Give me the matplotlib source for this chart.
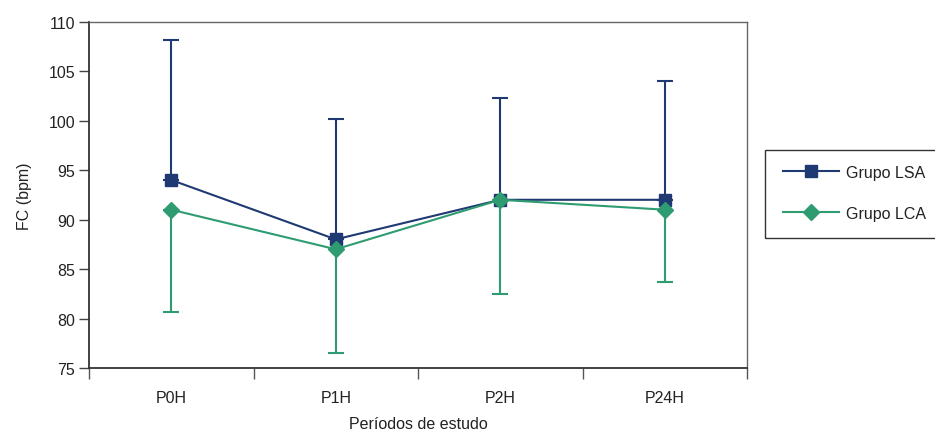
import matplotlib
matplotlib.use("Agg")
import matplotlib.pyplot as plt
from matplotlib.patches import Rectangle
from matplotlib.lines import Line2D
import numpy as np

categories = ["P0H", "P1H", "P2H", "P24H"]
lsa_mean = [94, 88, 92, 92]
lsa_err_up = [14.2, 12.2, 10.3, 12.0]
lca_mean = [91, 87, 92, 91]
lca_err_down = [10.3, 10.5, 9.5, 7.3]
yticks = [75, 80, 85, 90, 95, 100, 105, 110]

navy = "#1f3a72"
green = "#2e9c70"
txt = "#222222"

plt.rcParams['font.family'] = ['Liberation Sans', 'DejaVu Sans']
fs = 11.5

fig = plt.figure(figsize=(9.35, 4.35), dpi=100)
ax = fig.add_axes([89/935, 1-369/435, (747-89)/935, (369-22.7)/435])

x = np.arange(len(categories))
ax.errorbar(x, lsa_mean, yerr=[np.zeros(len(x)), lsa_err_up], color=navy, lw=1.5,
            marker="s", ms=8.5, capsize=5.5, capthick=1.5, elinewidth=1.5, zorder=3)
ax.errorbar(x, lca_mean, yerr=[lca_err_down, np.zeros(len(x))], color=green, lw=1.5,
            marker="D", ms=8, capsize=5.5, capthick=1.5, elinewidth=1.5, zorder=4)

ax.set_xlim(-0.5, len(categories) - 0.5)
ax.set_ylim(75, 110)
ax.set_yticks(yticks)
ax.set_yticklabels([str(v) for v in yticks])
ax.set_xticks(np.arange(len(categories) + 1) - 0.5)
ax.set_xticklabels([])
ax.set_xticks(x, minor=True)
ax.set_xticklabels(categories, minor=True)
ax.tick_params(axis="x", which="major", direction="out", length=8, width=1, color="#555555")
ax.tick_params(axis="x", which="minor", length=0, pad=16, labelsize=fs, labelcolor=txt)
ax.tick_params(axis="y", direction="out", length=7, width=1, color="#444444",
               labelsize=fs, labelcolor=txt, pad=3)

for s in ["left", "bottom"]:
    ax.spines[s].set_color("#333333")
    ax.spines[s].set_linewidth(1.3)
for s in ["top", "right"]:
    ax.spines[s].set_color("#666666")
    ax.spines[s].set_linewidth(1.0)

fig.text(418/935, 1-425/435, "Períodos de estudo", fontsize=fs, color=txt,
         ha="center", va="center")
ax.set_ylabel("FC (bpm)", fontsize=fs, color=txt, labelpad=12)

# legend box
fig.patches.append(Rectangle((765/935, 1-239/435), (945-765)/935, (239-151)/435,
                             transform=fig.transFigure, fill=False,
                             edgecolor="#333333", lw=1.0))
handles = [Line2D([], [], color=navy, lw=1.5, marker="s", ms=8.5),
           Line2D([], [], color=green, lw=1.5, marker="D", ms=8)]
labels = ["Grupo LSA", "Grupo LCA"]
leg = fig.legend(handles, labels, loc="upper left",
                 bbox_to_anchor=(775/935, 1-158/435), frameon=False, borderpad=0,
                 fontsize=fs, handlelength=3.5, handletextpad=0.45,
                 labelspacing=1.6, labelcolor=txt)

fig.savefig("out.png", dpi=100)
